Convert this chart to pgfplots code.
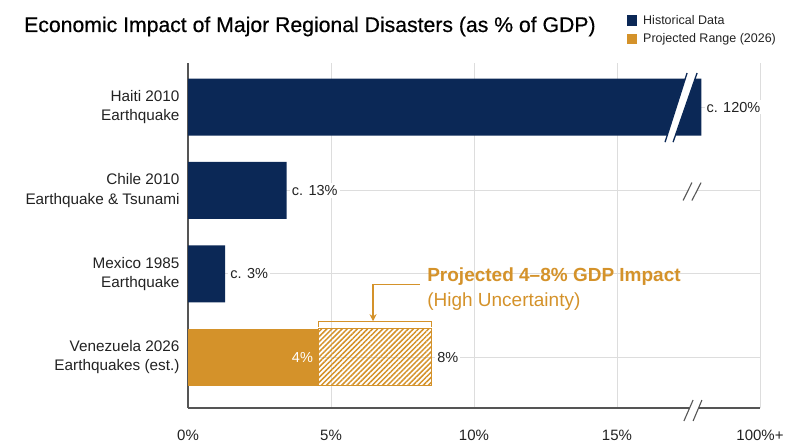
\documentclass[border=0pt]{standalone}
\usepackage{fontspec}
\setmainfont{Liberation Sans}
\usepackage{pgfplots}
\pgfplotsset{compat=1.18}
\usetikzlibrary{patterns.meta,arrows.meta}
\definecolor{navy}{HTML}{0B2856}
\definecolor{gold}{HTML}{D4922A}
\definecolor{gridc}{HTML}{DDDDDD}
\definecolor{axc}{HTML}{555555}
\definecolor{txt}{HTML}{222222}
\begin{document}
\begin{tikzpicture}[x=1pt,y=1pt]
\useasboundingbox (0,0) rectangle (800,447);
\node[anchor=base west, font=\fontsize{21.2}{26}\selectfont\addfontfeature{FakeBold=0.5}, text=black, inner sep=0pt] at (24,415) {Economic Impact of Major Regional Disasters (as \% of GDP)};
\begin{axis}[
  at={(188pt,39pt)}, anchor=south west,
  scale only axis, width=572pt, height=345pt,
  xmin=0, xmax=20, ymin=-0.61, ymax=3.53,
  clip=false,
  axis x line*=bottom, axis y line*=left,
  axis line style={axc, line width=1.3pt, -},
  xtick={0,5,10,15,20}, xticklabels={0\%,5\%,10\%,15\%,100\%+},
  ytick={0,1,2,3},
  yticklabels={{Venezuela 2026\\Earthquakes (est.)},{Mexico 1985\\Earthquake},{Chile 2010\\Earthquake \& Tsunami},{Haiti 2010\\Earthquake}},
  major tick length=0pt,
  xmajorgrids, ymajorgrids,
  grid style={gridc, line width=0.8pt},
  yticklabel style={align=right, font=\fontsize{15.3}{19.5}\selectfont, text=txt, xshift=-5pt},
  xticklabel style={anchor=base, font=\fontsize{15}{17}\selectfont, text=txt, yshift=-32pt},
  legend style={at={(0.7675,1.145)}, anchor=north west, draw=none, fill=none,
    font=\fontsize{12.5}{14}\selectfont, row sep=4pt, inner sep=0pt, text=txt,
    cells={anchor=west}},
  legend image code/.code={\fill[#1] (0pt,-5.3pt) rectangle (9.5pt,5.3pt); \path (14pt,0pt);},
]
\addplot[xbar, bar width=57pt, bar shift=0pt, fill=navy, draw=none] coordinates {(17.95,3) (3.45,2) (1.3,1)};
\addlegendentry{Historical Data}
\addplot[xbar, bar width=57pt, bar shift=0pt, fill=gold, draw=none] coordinates {(4.55,0)};
\addlegendentry{Projected Range (2026)}
\addplot[draw=gold, line width=1.2pt, pattern={Lines[angle=45,distance=3.6pt,line width=1.5pt]}, pattern color=gold, forget plot] coordinates {(4.55,-0.342) (8.5,-0.342) (8.5,0.342) (4.55,0.342)} -- cycle;

% break on Haiti bar
\fill[white] (axis cs:16.68,2.58) -- (axis cs:16.96,2.58) -- (axis cs:17.80,3.41) -- (axis cs:17.45,3.41) -- cycle;
\draw[navy, line width=1.3pt] (axis cs:16.68,2.58) -- (axis cs:17.45,3.41);
\draw[navy, line width=1.3pt] (axis cs:16.96,2.58) -- (axis cs:17.80,3.41);
% break on Chile row
\fill[white] (axis cs:17.31,1.88) -- (axis cs:17.62,1.88) -- (axis cs:17.94,2.095) -- (axis cs:17.62,2.095) -- cycle;
\draw[axc, line width=1.1pt] (axis cs:17.31,1.88) -- (axis cs:17.62,2.095);
\draw[axc, line width=1.1pt] (axis cs:17.62,1.88) -- (axis cs:17.94,2.095);
% break on x axis
\fill[white] (axis cs:17.34,-0.766) -- (axis cs:17.66,-0.766) -- (axis cs:17.97,-0.514) -- (axis cs:17.66,-0.514) -- cycle;
\draw[axc, line width=1.1pt] (axis cs:17.34,-0.766) -- (axis cs:17.66,-0.514);
\draw[axc, line width=1.1pt] (axis cs:17.66,-0.766) -- (axis cs:17.97,-0.514);

% value labels
\tikzset{vl/.style={anchor=west, fill=white, inner sep=2pt, font=\fontsize{14.5}{17}\selectfont, text=txt}}
\node[vl, xshift=3pt] at (axis cs:17.95,3) {c. 120\%};
\node[vl, xshift=3pt] at (axis cs:3.45,2) {c. 13\%};
\node[vl, xshift=3pt] at (axis cs:1.3,1) {c. 3\%};
\node[vl, xshift=4pt] at (axis cs:8.5,0) {8\%};
\node[anchor=east, inner sep=0pt, font=\fontsize{14.5}{17}\selectfont, text=white, xshift=-5pt] at (axis cs:4.55,0) {4\%};

% bracket and arrow
\draw[gold, line width=1.2pt] (axis cs:4.55,0.366) -- (axis cs:4.55,0.426) -- (axis cs:8.5,0.426) -- (axis cs:8.5,0.366);
\draw[gold, line width=1.2pt, -{Stealth[length=7pt,width=7pt]}] (axis cs:8.11,0.876) -- (axis cs:6.47,0.876) -- (axis cs:6.47,0.432);
\node[anchor=base west, inner sep=0pt, text=gold, font=\fontsize{19}{22}\selectfont\bfseries] at (axis cs:8.36,0.906) {Projected 4–8\% GDP Impact};
\node[anchor=base west, inner sep=0pt, text=gold, font=\fontsize{19}{22}\selectfont] at (axis cs:8.36,0.61) {(High Uncertainty)};
\end{axis}
\end{tikzpicture}
\end{document}
